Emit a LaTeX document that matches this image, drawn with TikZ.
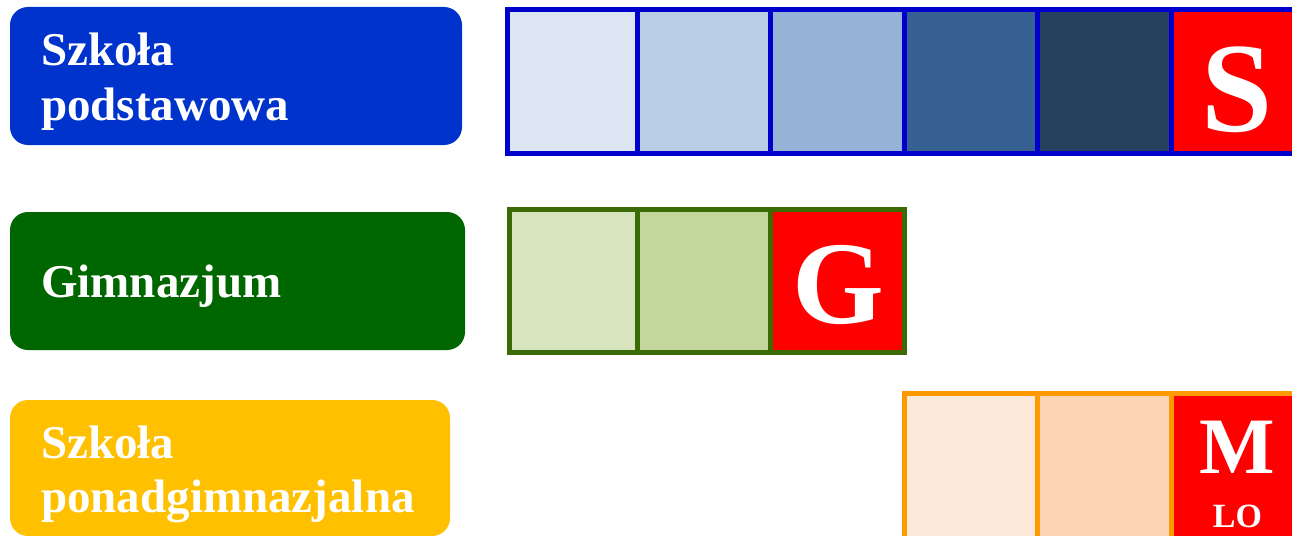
\documentclass[tikz,border=0pt]{standalone}
\usepackage{fontspec}
\setmainfont{Liberation Serif}
\definecolor{lblue}{HTML}{0033CC}
\definecolor{lgreen}{HTML}{006600}
\definecolor{lorange}{HTML}{FFC000}
\definecolor{bordblue}{HTML}{0000CC}
\definecolor{bordgreen}{HTML}{3A6B04}
\definecolor{bordorange}{HTML}{FF9900}
\definecolor{bA}{HTML}{DCE6F2}
\definecolor{bB}{HTML}{B9CDE5}
\definecolor{bC}{HTML}{95B3D7}
\definecolor{bD}{HTML}{376092}
\definecolor{bE}{HTML}{284060}
\definecolor{gA}{HTML}{D7E4BD}
\definecolor{gB}{HTML}{C3D69B}
\definecolor{oA}{HTML}{FDE9D9}
\definecolor{oB}{HTML}{FCD5B5}
\definecolor{cred}{HTML}{FF0000}
\begin{document}
\begin{tikzpicture}[x=1pt,y=-1pt,
  lbox/.style={rounded corners=18pt,draw=none},
  ltext/.style={anchor=base west,inner sep=0pt,text=white,font=\fontsize{47}{54}\selectfont\bfseries},
  cellb/.style={draw=bordblue,line width=5pt},
  cellg/.style={draw=bordgreen,line width=5pt},
  cello/.style={draw=bordorange,line width=5pt},
  letter/.style={anchor=base,inner sep=0pt,text=white}]
\useasboundingbox (0,0) rectangle (1292,535);
\clip (0,0) rectangle (1292,535);
\fill[white] (0,0) rectangle (1292,535);
% label boxes
\fill[lbox,fill=lblue] (10,7) rectangle (462,145);
\fill[lbox,fill=lgreen] (10,212) rectangle (465,350);
\fill[lbox,fill=lorange] (10,400) rectangle (450,536);
\node[ltext] (sp1) at (41,66) {Szkoła};
\node[ltext] (sp2) at (41,120) {podstawowa};
\node[ltext] (gim) at (41,297) {Gimnazjum};
\node[ltext] (pg1) at (41,458) {Szkoła};
\node[ltext] (pg2) at (41,512) {ponadgimnazjalna};
% blue row
\filldraw[cellb,fill=bA] (507,10) rectangle (637.5,153);
\filldraw[cellb,fill=bB] (637.5,10) rectangle (770.5,153);
\filldraw[cellb,fill=bC] (770.5,10) rectangle (904,153);
\filldraw[cellb,fill=bD] (904,10) rectangle (1037,153);
\filldraw[cellb,fill=bE] (1037,10) rectangle (1171,153);
\filldraw[cellb,fill=cred] (1171,10) rectangle (1310,153);
\node[letter,font=\fontsize{128}{128}\selectfont\bfseries] (S) at (1237.5,131) {S};
% green row
\filldraw[cellg,fill=gA] (509.5,209.5) rectangle (637.5,352.5);
\filldraw[cellg,fill=gB] (637.5,209.5) rectangle (770.5,352.5);
\filldraw[cellg,fill=cred] (770.5,209.5) rectangle (904,352.5);
\node[letter,font=\fontsize{118}{118}\selectfont\bfseries] (G) at (838,323) {G};
% orange row
\filldraw[cello,fill=oA] (904.5,393.5) rectangle (1037,540);
\filldraw[cello,fill=oB] (1037,393.5) rectangle (1171,540);
\filldraw[cello,fill=cred] (1171,393.5) rectangle (1310,540);
\node[letter,font=\fontsize{80}{80}\selectfont\bfseries] (M) at (1237.5,473) {M};
\node[letter,font=\fontsize{34}{34}\selectfont\bfseries] (LO) at (1237.5,527) {LO};
\end{tikzpicture}
\end{document}
